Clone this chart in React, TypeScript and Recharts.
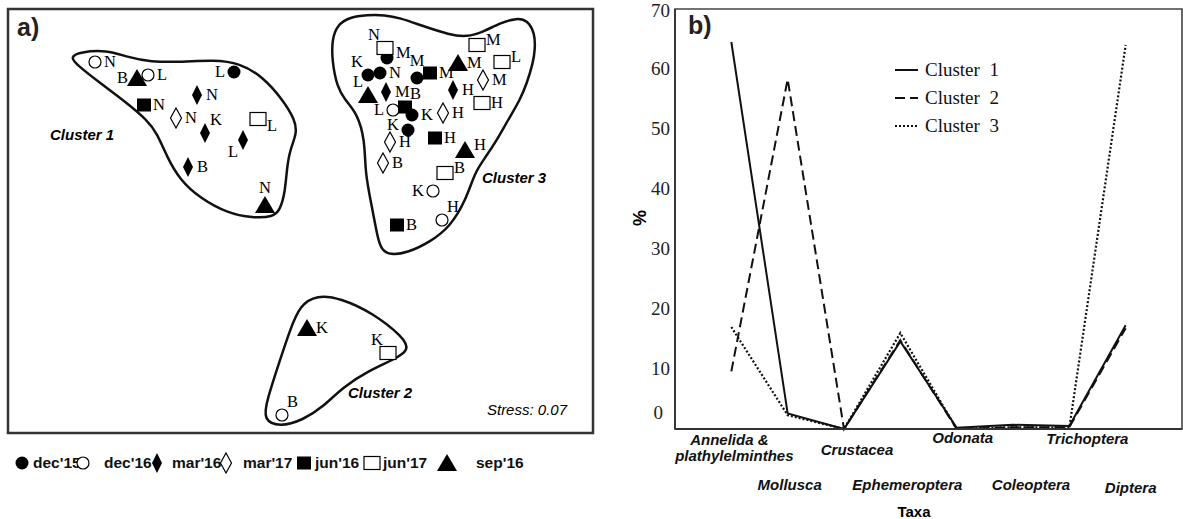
import React from "react";
import {
  ScatterChart,
  Scatter,
  LineChart,
  Line,
  XAxis,
  YAxis,
  Legend,
  ReferenceArea,
} from "recharts";

// ---- panel a: NMDS scores (arbitrary units) ----
// side = where the site letter sits next to its marker
const dec15 = [
  { x: 2.26, y: 3.61, site: "L", side: "l" },
  { x: 3.79, y: 3.75, site: "M", side: "ur" },
  { x: 3.6, y: 3.58, site: "K", side: "tl" },
  { x: 3.72, y: 3.6, site: "N", side: "r" },
  { x: 4.09, y: 3.55, site: "M", side: "t" },
  { x: 4.04, y: 3.18, site: "K", side: "r" },
  { x: 4.0, y: 3.03, site: "K", side: "ul" },
];
const dec16 = [
  { x: 0.87, y: 3.71, site: "N", side: "r" },
  { x: 1.4, y: 3.58, site: "L", side: "r" },
  { x: 3.85, y: 3.23, site: "L", side: "l" },
  { x: 4.25, y: 2.42, site: "K", side: "l" },
  { x: 4.34, y: 2.13, site: "H", side: "tr" },
  { x: 2.74, y: 0.18, site: "B", side: "tr" },
];
const mar16 = [
  { x: 1.89, y: 3.38, site: "N", side: "r" },
  { x: 1.97, y: 3.0, site: "K", side: "tr" },
  { x: 2.35, y: 2.93, site: "L", side: "bl" },
  { x: 1.8, y: 2.66, site: "B", side: "r" },
  { x: 3.78, y: 3.41, site: "M", side: "r" },
  { x: 4.45, y: 3.43, site: "H", side: "r" },
];
const mar17 = [
  { x: 1.68, y: 3.15, site: "N", side: "r" },
  { x: 4.75, y: 3.53, site: "M", side: "r" },
  { x: 4.35, y: 3.2, site: "H", side: "r" },
  { x: 3.82, y: 2.91, site: "H", side: "r" },
  { x: 3.75, y: 2.7, site: "B", side: "r" },
];
const jun16 = [
  { x: 1.36, y: 3.28, site: "N", side: "r" },
  { x: 4.22, y: 3.6, site: "M", side: "r" },
  { x: 3.97, y: 3.26, site: "B", side: "tr" },
  { x: 4.27, y: 2.95, site: "H", side: "r" },
  { x: 3.89, y: 2.08, site: "B", side: "r" },
];
const jun17 = [
  { x: 2.5, y: 3.14, site: "L", side: "br" },
  { x: 3.77, y: 3.85, site: "N", side: "tl" },
  { x: 4.69, y: 3.88, site: "M", side: "ur" },
  { x: 4.94, y: 3.71, site: "L", side: "ur" },
  { x: 4.74, y: 3.3, site: "H", side: "r" },
  { x: 4.37, y: 2.6, site: "B", side: "ur" },
  { x: 3.8, y: 0.8, site: "K", side: "tl" },
];
const sep16 = [
  { x: 1.29, y: 3.55, site: "B", side: "l" },
  { x: 2.57, y: 2.28, site: "N", side: "t" },
  { x: 3.6, y: 3.38, site: "L", side: "tl" },
  { x: 4.5, y: 3.7, site: "M", side: "r" },
  { x: 4.57, y: 2.83, site: "H", side: "ur" },
  { x: 2.99, y: 1.05, site: "K", side: "r" },
];

// cluster outlines (control points of a closed smooth curve)
const hull1 = [
  { x: 0.62, y: 3.76 }, { x: 0.72, y: 3.81 }, { x: 0.99, y: 3.83 }, { x: 1.19, y: 3.76 },
  { x: 1.42, y: 3.71 }, { x: 1.75, y: 3.71 }, { x: 2.05, y: 3.73 }, { x: 2.32, y: 3.7 },
  { x: 2.55, y: 3.56 }, { x: 2.75, y: 3.33 }, { x: 2.87, y: 3.13 }, { x: 2.89, y: 3.0 },
  { x: 2.82, y: 2.83 }, { x: 2.79, y: 2.66 }, { x: 2.77, y: 2.4 }, { x: 2.72, y: 2.23 },
  { x: 2.65, y: 2.16 }, { x: 2.45, y: 2.15 }, { x: 2.19, y: 2.2 }, { x: 1.92, y: 2.35 },
  { x: 1.72, y: 2.53 }, { x: 1.59, y: 2.76 }, { x: 1.49, y: 3.0 }, { x: 1.39, y: 3.13 },
  { x: 1.19, y: 3.3 }, { x: 0.92, y: 3.5 }, { x: 0.69, y: 3.68 },
];
const hull2 = [
  { x: 2.92, y: 1.28 }, { x: 3.09, y: 1.38 }, { x: 3.32, y: 1.35 }, { x: 3.65, y: 1.2 },
  { x: 3.95, y: 0.96 }, { x: 4.02, y: 0.83 }, { x: 3.85, y: 0.73 }, { x: 3.62, y: 0.63 },
  { x: 3.35, y: 0.46 }, { x: 3.15, y: 0.26 }, { x: 2.95, y: 0.13 }, { x: 2.72, y: 0.06 },
  { x: 2.55, y: 0.13 }, { x: 2.59, y: 0.33 }, { x: 2.72, y: 0.73 }, { x: 2.82, y: 1.03 },
];
const hull3 = [
  { x: 3.29, y: 4.08 }, { x: 3.42, y: 4.16 }, { x: 3.59, y: 4.18 }, { x: 3.77, y: 4.18 },
  { x: 3.92, y: 4.15 }, { x: 4.12, y: 4.08 }, { x: 4.42, y: 3.98 }, { x: 4.59, y: 3.96 },
  { x: 4.75, y: 4.01 }, { x: 4.92, y: 4.1 }, { x: 5.09, y: 4.15 }, { x: 5.19, y: 4.13 },
  { x: 5.27, y: 4.0 }, { x: 5.27, y: 3.83 }, { x: 5.25, y: 3.7 }, { x: 5.19, y: 3.5 },
  { x: 5.12, y: 3.33 }, { x: 5.0, y: 3.13 }, { x: 4.89, y: 2.93 }, { x: 4.77, y: 2.75 },
  { x: 4.67, y: 2.61 }, { x: 4.58, y: 2.33 }, { x: 4.42, y: 2.06 }, { x: 4.22, y: 1.91 },
  { x: 3.99, y: 1.8 }, { x: 3.82, y: 1.78 }, { x: 3.74, y: 1.83 }, { x: 3.7, y: 1.93 },
  { x: 3.64, y: 2.26 }, { x: 3.57, y: 2.6 }, { x: 3.57, y: 2.93 }, { x: 3.49, y: 3.2 },
  { x: 3.37, y: 3.33 }, { x: 3.29, y: 3.46 }, { x: 3.24, y: 3.73 }, { x: 3.24, y: 3.93 },
];

// ---- panel b: mean % composition per cluster ----
const taxa = [
  "Annelida &\nplathylelminthes",
  "Mollusca",
  "Crustacea",
  "Ephemeroptera",
  "Odonata",
  "Coleoptera",
  "Trichoptera",
  "Diptera",
];
const cluster1Pct = [64.5, 2.6, 0, 14.6, 0.2, 0.7, 0.5, 17.3];
const cluster2Pct = [9.6, 58.3, 0, 14.8, 0, 0.3, 0.3, 16.8];
const cluster3Pct = [17.0, 2.3, 0, 16.0, 0, 0.3, 0.2, 64.0];
const pctTicks = [0, 10, 20, 30, 40, 50, 60, 70];

const taxaRows = taxa.map((name, i) => ({
  idx: i,
  name,
  c1: cluster1Pct[i],
  c2: cluster2Pct[i],
  c3: cluster3Pct[i],
}));

const SERIF = "'Liberation Serif', 'Times New Roman', serif";
const SANS = "'Liberation Sans', Arial, sans-serif";
const INK = "#000";

type Kind = "dot" | "ring" | "diamond" | "diamondOpen" | "square" | "squareOpen" | "triangle";

function Marker({ kind, x, y }: { kind: Kind; x: number; y: number }) {
  switch (kind) {
    case "dot":
      return <circle cx={x} cy={y} r={6.5} fill={INK} />;
    case "ring":
      return <circle cx={x} cy={y} r={6} fill="#fff" stroke={INK} strokeWidth={1.2} />;
    case "diamond":
      return <path d={`M${x},${y - 10}L${x + 5},${y}L${x},${y + 10}L${x - 5},${y}Z`} fill={INK} />;
    case "diamondOpen":
      return (
        <path
          d={`M${x},${y - 10}L${x + 5.5},${y}L${x},${y + 10}L${x - 5.5},${y}Z`}
          fill="#fff"
          stroke={INK}
          strokeWidth={1.2}
        />
      );
    case "square":
      return <rect x={x - 7} y={y - 6.5} width={14} height={13} fill={INK} />;
    case "squareOpen":
      return (
        <rect x={x - 8} y={y - 6.5} width={16} height={13} fill="#fff" stroke={INK} strokeWidth={1.2} />
      );
    case "triangle":
      return <path d={`M${x},${y - 9}L${x + 10},${y + 8}L${x - 10},${y + 8}Z`} fill={INK} />;
  }
  return null;
}

const LABEL_POS: Record<string, [number, number, "start" | "end" | "middle"]> = {
  r: [9, 5, "start"],
  l: [-9, 5, "end"],
  t: [0, -12, "middle"],
  tr: [5, -8, "start"],
  tl: [-5, -8, "end"],
  ur: [9, 0, "start"],
  ul: [-9, 0, "end"],
  br: [9, 12, "start"],
  bl: [-5, 17, "end"],
};

const siteShape = (kind: Kind) => (props: any) => {
  const { cx, cy, payload } = props;
  const [dx, dy, anchor] = LABEL_POS[payload.side] || LABEL_POS.r;
  return (
    <g>
      <Marker kind={kind} x={cx} y={cy} />
      <text x={cx + dx} y={cy + dy} textAnchor={anchor} fontFamily={SERIF} fontSize={16.5} fill={INK}>
        {payload.site}
      </text>
    </g>
  );
};

const noPoint = () => <g />;

const hullLine = { stroke: "#111", strokeWidth: 2.5 };

const dateSeries: { name: string; data: typeof dec15; kind: Kind }[] = [
  { name: "dec'15", data: dec15, kind: "dot" },
  { name: "dec'16", data: dec16, kind: "ring" },
  { name: "mar'16", data: mar16, kind: "diamond" },
  { name: "mar'17", data: mar17, kind: "diamondOpen" },
  { name: "jun'16", data: jun16, kind: "square" },
  { name: "jun'17", data: jun17, kind: "squareOpen" },
  { name: "sep'16", data: sep16, kind: "triangle" },
];

// x of marker / label in the key under panel a
const KEY_X = [
  [22, 33],
  [83, 104],
  [157, 172],
  [226, 243],
  [304, 315],
  [372, 383],
  [447, 476],
];

const TICK_SHIFT = [
  [-2, 16],
  [2, 61],
  [13, 26],
  [7, 61],
  [6, 14],
  [18, 61],
  [18, 15],
  [5, 64],
];

const TaxonTick = (props: any) => {
  const i = props.payload.value as number;
  const [dx, dy] = TICK_SHIFT[i] || [0, 16];
  const lines = (taxa[i] || "").split("\n");
  return (
    <text
      x={props.x + dx}
      y={props.y + dy}
      textAnchor="middle"
      fontFamily={SANS}
      fontWeight="bold"
      fontStyle="italic"
      fontSize={15}
      fill="#111"
    >
      {lines.map((ln, k) => (
        <tspan key={k} x={props.x + dx + (k ? 5 : 0)} dy={k ? 16 : 0}>
          {ln}
        </tspan>
      ))}
    </text>
  );
};

const PctTick = (props: any) => {
  const v = props.payload.value;
  const zero = v === 0;
  const top = v === 70;
  return (
    <text
      x={props.x - (zero ? 12 : 5)}
      y={props.y + (zero ? -10 : top ? 8 : 6)}
      textAnchor="end"
      fontFamily={SERIF}
      fontSize={19}
      fill="#222"
    >
      {v}
    </text>
  );
};

const DASH: Record<string, string | undefined> = { c1: undefined, c2: "10 5", c3: "2 2" };

const ClusterLegend = (props: any) => {
  const items = props.payload || [];
  return (
    <svg width={140} height={90}>
      {items.map((it: any, k: number) => {
        const y = 14 + k * 28;
        return (
          <g key={k}>
            <line x1={0} x2={23} y1={y} y2={y} stroke="#111" strokeWidth={2} strokeDasharray={DASH[it.dataKey]} />
            <text x={30} y={y + 6} fontFamily={SERIF} fontSize={19} fill="#111" style={{ whiteSpace: "pre" }}>
              {it.value}
            </text>
          </g>
        );
      })}
    </svg>
  );
};

export default function App() {
  return (
    <div style={{ position: "absolute", left: 0, top: 0, width: 1183, height: 519, background: "#fff" }}>
      {/* panel a */}
      <div style={{ position: "absolute", left: 0, top: 0 }}>
        <ScatterChart width={600} height={519} margin={{ top: 9, right: 7, bottom: 86, left: 8 }}>
          <XAxis type="number" dataKey="x" domain={[0, 5.85]} hide />
          <YAxis type="number" dataKey="y" domain={[0, 4.24]} hide />
          <ReferenceArea x1={0} x2={5.85} y1={0} y2={4.24} fill="none" stroke="#333" strokeWidth={2.5} />
          <Scatter data={hull1} line={hullLine} lineJointType="basisClosed" shape={noPoint} isAnimationActive={false} />
          <Scatter data={hull2} line={hullLine} lineJointType="basisClosed" shape={noPoint} isAnimationActive={false} />
          <Scatter data={hull3} line={hullLine} lineJointType="basisClosed" shape={noPoint} isAnimationActive={false} />
          {dateSeries.map((s) => (
            <Scatter key={s.name} name={s.name} data={s.data} shape={siteShape(s.kind)} isAnimationActive={false} />
          ))}
        </ScatterChart>
      </div>

      {/* panel b */}
      <div style={{ position: "absolute", left: 600, top: 0 }}>
        <LineChart width={583} height={519} data={taxaRows} margin={{ top: 9, right: 1, bottom: 10, left: 35 }}>
          <XAxis
            type="number"
            dataKey="idx"
            domain={[-1, 8]}
            ticks={[0, 1, 2, 3, 4, 5, 6, 7]}
            interval={0}
            tick={<TaxonTick />}
            tickLine={false}
            tickSize={0}
            tickMargin={0}
            height={80}
            axisLine={{ stroke: "#333", strokeWidth: 1.8 }}
          />
          <YAxis
            type="number"
            domain={[0, 70]}
            ticks={pctTicks}
            tick={<PctTick />}
            tickLine={false}
            tickSize={0}
            tickMargin={0}
            width={40}
            axisLine={{ stroke: "#333", strokeWidth: 1.8 }}
          />
          <ReferenceArea x1={-1} x2={8} y1={0} y2={70} fill="none" stroke="#444" strokeWidth={1.6} />
          <Legend
            layout="vertical"
            align="center"
            verticalAlign="middle"
            content={<ClusterLegend />}
            wrapperStyle={{ left: 295, top: 56, width: 140, height: 90 }}
          />
          <Line dataKey="c1" name="Cluster  1" stroke="#111" strokeWidth={2} dot={false} type="linear" isAnimationActive={false} />
          <Line dataKey="c2" name="Cluster  2" stroke="#111" strokeWidth={2} strokeDasharray="10 5" dot={false} type="linear" isAnimationActive={false} />
          <Line dataKey="c3" name="Cluster  3" stroke="#111" strokeWidth={2.2} strokeDasharray="2 2" dot={false} type="linear" isAnimationActive={false} />
        </LineChart>
      </div>

      {/* annotations */}
      <svg
        width={1183}
        height={519}
        style={{ position: "absolute", left: 0, top: 0, pointerEvents: "none" }}
      >
        <text x={17} y={36} fontFamily={SANS} fontWeight="bold" fontSize={25} fill="#222">a)</text>
        <text x={688} y={34} fontFamily={SANS} fontWeight="bold" fontSize={25} fill="#222">b)</text>
        <text x={50} y={140} fontFamily={SANS} fontWeight="bold" fontStyle="italic" fontSize={15}>Cluster 1</text>
        <text x={348} y={398} fontFamily={SANS} fontWeight="bold" fontStyle="italic" fontSize={15}>Cluster 2</text>
        <text x={482} y={183} fontFamily={SANS} fontWeight="bold" fontStyle="italic" fontSize={15}>Cluster 3</text>
        <text x={567} y={415} textAnchor="end" fontFamily={SANS} fontStyle="italic" fontSize={15}>Stress: 0.07</text>
        <text
          x={640}
          y={218}
          textAnchor="middle"
          dominantBaseline="central"
          transform="rotate(-90 640 218)"
          fontFamily={SANS}
          fontWeight="bold"
          fontSize={18}
        >
          %
        </text>
        <text x={914} y={517} textAnchor="middle" fontFamily={SANS} fontWeight="bold" fontSize={15}>Taxa</text>
        {dateSeries.map((s, k) => (
          <g key={s.name}>
            <Marker kind={s.kind} x={KEY_X[k][0]} y={463} />
            <text x={KEY_X[k][1]} y={468} fontFamily={SANS} fontWeight="bold" fontSize={15.5} fill="#111">
              {s.name}
            </text>
          </g>
        ))}
      </svg>
    </div>
  );
}
